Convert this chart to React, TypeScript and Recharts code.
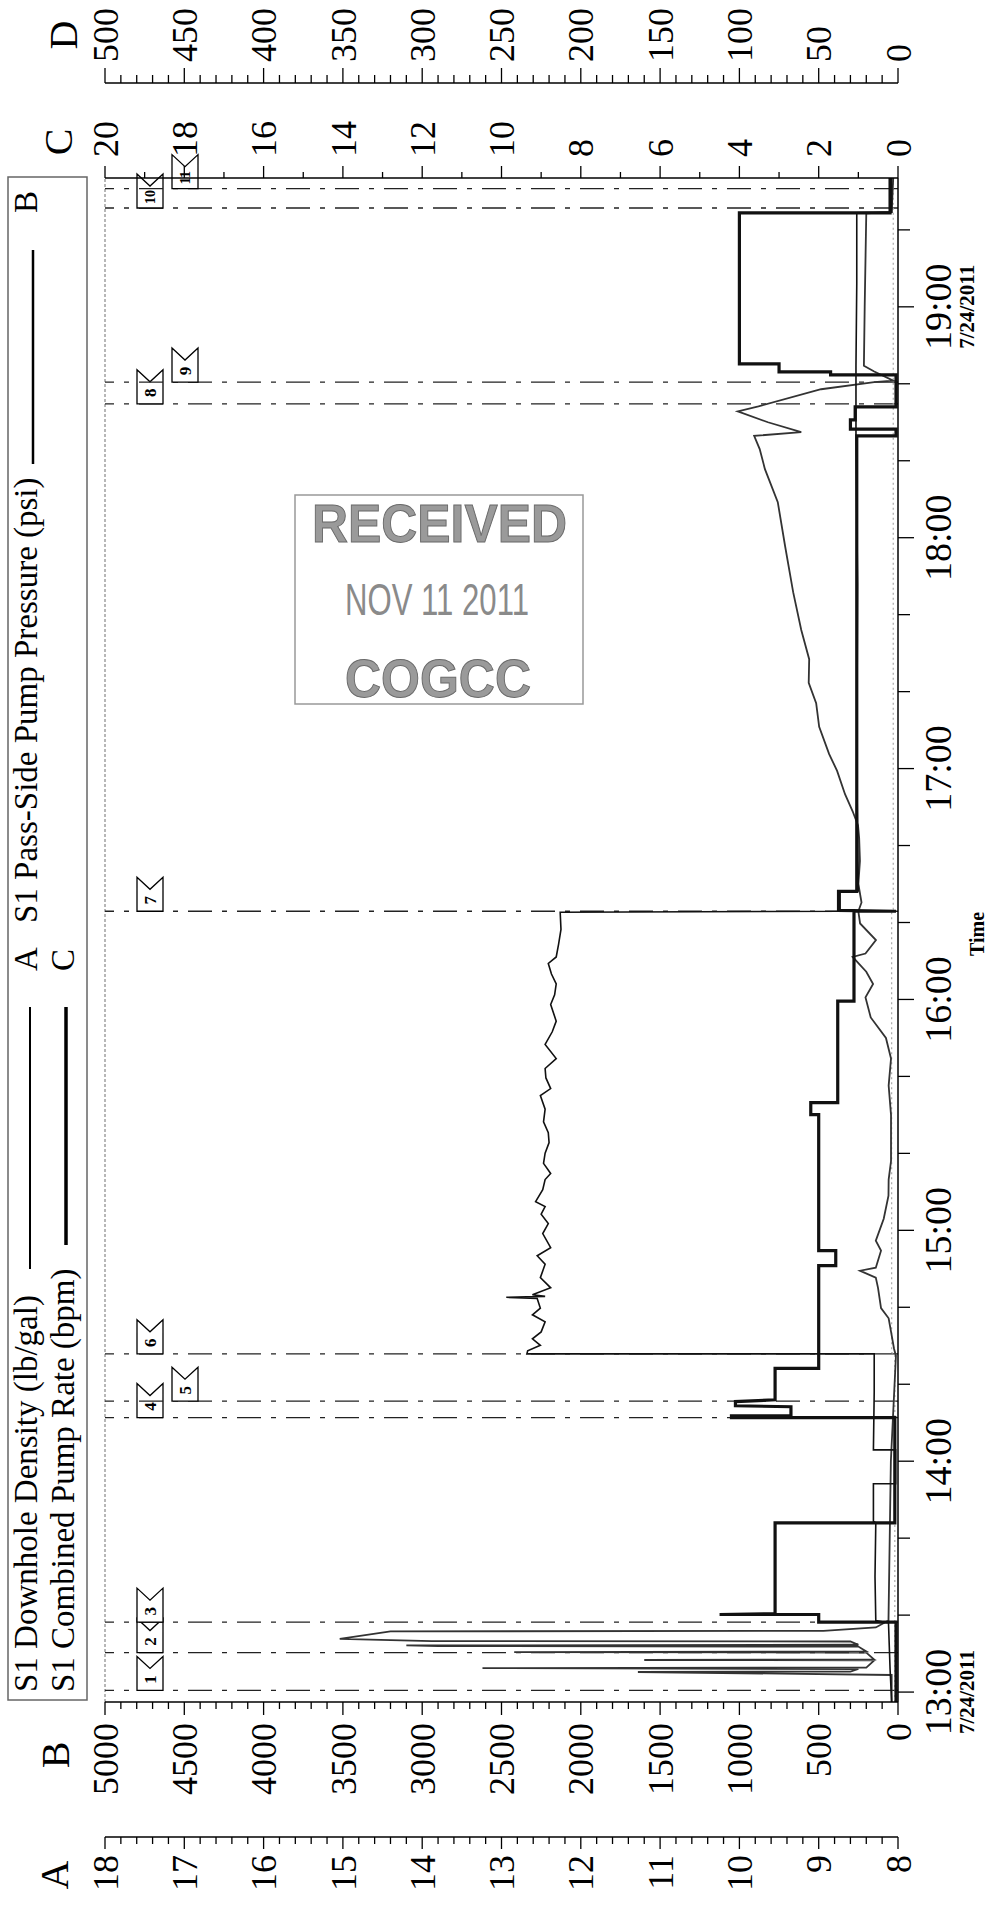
import React from "react";
import { LineChart, Line, XAxis, YAxis, ReferenceLine } from "recharts";

// Job log 7/24/2011, time in decimal hours. Chart is drawn landscape, then turned to portrait.
const SERIF = "Liberation Serif, 'Times New Roman', serif";

const hourTicks = [13, 14, 15, 16, 17, 18, 19];
const datedHours = [13, 19];
const dateLabel = "7/24/2011";
const densityTicks = [8, 9, 10, 11, 12, 13, 14, 15, 16, 17, 18];
const pressureTicks = [0, 500, 1000, 1500, 2000, 2500, 3000, 3500, 4000, 4500, 5000];
const rateTicks = [0, 2, 4, 6, 8, 10, 12, 14, 16, 18, 20];
const dTicks = [0, 50, 100, 150, 200, 250, 300, 350, 400, 450, 500];
const timeDomain = [12.957, 19.558];

const eventLabels = ["1", "2", "3", "4", "5", "6", "7", "8", "9", "10", "11"];
const eventTimes = [13.007, 13.171, 13.303, 14.189, 14.26, 14.465, 16.382, 18.58, 18.674, 19.428, 19.512];

// S1 Downhole Density (lb/gal)
const densityA: [number, number][] = [
  [12.957, 8.08], [13.1, 8.1], [13.3, 8.12], [13.31, 8.28], [13.5, 8.29], [13.733, 8.28],
  [13.74, 8.31], [13.902, 8.31], [13.902, 8.03], [14.049, 8.03], [14.049, 8.31], [14.3, 8.3],
  [14.465, 8.3], [14.465, 12.68], [14.478, 12.67], [14.502, 12.51], [14.53, 12.61], [14.56, 12.5],
  [14.604, 12.45], [14.634, 12.61], [14.663, 12.51], [14.705, 12.55], [14.71, 12.94], [14.714, 12.45],
  [14.721, 12.61], [14.751, 12.38], [14.795, 12.51], [14.853, 12.45], [14.89, 12.55], [14.925, 12.38],
  [14.986, 12.48], [15.029, 12.41], [15.07, 12.5], [15.103, 12.45], [15.124, 12.57], [15.176, 12.48],
  [15.22, 12.45], [15.246, 12.38], [15.29, 12.47], [15.334, 12.45], [15.38, 12.4], [15.423, 12.41],
  [15.47, 12.47], [15.525, 12.45], [15.584, 12.51], [15.614, 12.38], [15.66, 12.44], [15.701, 12.45],
  [15.744, 12.31], [15.805, 12.45], [15.86, 12.36], [15.906, 12.31], [15.978, 12.38], [16.02, 12.33],
  [16.067, 12.31], [16.11, 12.37], [16.156, 12.41], [16.184, 12.31], [16.24, 12.28], [16.303, 12.25],
  [16.378, 12.26], [16.382, 8.73], [16.468, 8.73], [16.47, 8.5], [17.0, 8.52], [17.8, 8.51],
  [18.44, 8.53], [18.745, 8.53], [19.1, 8.52], [19.407, 8.52], [19.41, 8.08], [19.558, 8.08],
];

// S1 Pass-Side Pump Pressure (psi)
const pressureB: [number, number][] = [
  [12.957, 40], [13.074, 40], [13.087, 1640], [13.089, 300], [13.1, 250], [13.104, 2620],
  [13.106, 200], [13.137, 150], [13.139, 1600], [13.141, 150], [13.171, 200], [13.173, 2420],
  [13.176, 200], [13.197, 250], [13.199, 2900], [13.202, 3100], [13.205, 250], [13.219, 300],
  [13.221, 2940], [13.23, 3520], [13.263, 3200], [13.265, 470], [13.28, 140], [13.31, 60],
  [14.0, 45], [14.457, 13], [14.487, 25], [14.561, 44], [14.619, 59], [14.663, 107], [14.751, 126],
  [14.795, 140], [14.825, 239], [14.838, 140], [14.912, 107], [14.955, 140], [15.05, 90],
  [15.15, 60], [15.22, 59], [15.3, 44], [15.5, 44], [15.627, 59], [15.744, 44], [15.833, 76],
  [15.922, 172], [16.009, 205], [16.067, 157], [16.12, 200], [16.184, 286], [16.199, 205],
  [16.257, 139], [16.329, 239], [16.382, 250], [16.42, 230], [16.5, 250], [16.6, 240], [16.7, 245],
  [16.754, 252], [16.815, 286], [16.889, 334], [16.99, 384], [17.063, 434], [17.181, 497],
  [17.283, 516], [17.371, 563], [17.474, 560], [17.6, 610], [17.764, 661], [17.964, 712],
  [18.154, 758], [18.297, 839], [18.384, 872], [18.441, 907], [18.457, 610], [18.5, 820],
  [18.547, 1010], [18.569, 880], [18.643, 485], [18.674, 150], [18.68, 30], [18.72, 150],
  [18.745, 215], [19.0, 210], [19.405, 200], [19.41, 40], [19.558, 30],
];

// S1 Combined Pump Rate (bpm)
const rateC: [number, number][] = [
  [12.957, 0.05], [13.303, 0.05], [13.303, 2.0], [13.336, 2.0], [13.336, 4.5], [13.34, 3.1],
  [13.733, 3.1], [13.733, 0.08], [14.189, 0.08], [14.189, 4.2], [14.196, 4.2], [14.196, 2.7],
  [14.236, 2.7], [14.24, 4.1], [14.258, 4.1], [14.266, 3.1], [14.402, 3.1], [14.402, 2.0],
  [14.847, 2.0], [14.847, 1.57], [14.912, 1.57], [14.912, 2.0], [15.501, 2.0], [15.501, 2.2],
  [15.553, 2.2], [15.553, 1.52], [15.993, 1.52], [15.993, 1.11], [16.382, 1.11], [16.382, 0.05],
  [16.386, 1.5], [16.468, 1.5], [16.468, 1.04], [18.441, 1.04], [18.441, 0.05], [18.47, 0.05],
  [18.47, 1.2], [18.51, 1.2], [18.51, 1.08], [18.567, 1.08], [18.567, 0.05], [18.705, 0.05],
  [18.705, 1.7], [18.718, 1.7], [18.718, 3.0], [18.753, 3.0], [18.753, 4.0], [19.407, 4.0],
  [19.407, 0.2], [19.558, 0.2],
];

// fourth channel on the D scale
const channelD: [number, number][] = [
  [12.957, 2], [14.465, 2], [14.47, 4], [16.382, 4], [16.39, 3], [19.558, 3],
];

const toRows = (pts: [number, number][]) => pts.map(([t, v]) => ({ t, v }));

const fill = (lo: number, hi: number, step: number) => {
  const out: number[] = [];
  for (let i = 0; lo + i * step <= hi + 1e-9; i++) out.push(+(lo + i * step).toFixed(4));
  return out;
};
const isMajor = (v: number, majors: number[]) => majors.some((m) => Math.abs(m - v) < 1e-3);

function valueTick(side: "left" | "right", majors: number[], majorLen: number, minorLen: number, gap: number) {
  return (p: any) => {
    const v = p.payload.value;
    const major = isMajor(v, majors);
    const d = side === "left" ? -1 : 1;
    return (
      <g>
        <line x1={p.x} y1={p.y} x2={p.x + d * (major ? majorLen : minorLen)} y2={p.y} stroke="#000" strokeWidth={1.3} />
        {major && (
          <text x={p.x + d * (majorLen + gap)} y={p.y} dy="0.35em" textAnchor={side === "left" ? "end" : "start"}
            fontSize={36} fontFamily={SERIF} fill="#000">
            {Math.round(v)}
          </text>
        )}
      </g>
    );
  };
}

const timeTick = (p: any) => {
  const v = p.payload.value;
  const major = isMajor(v, hourTicks);
  const h = Math.round(v);
  return (
    <g>
      <line x1={p.x} x2={p.x} y1={p.y} y2={p.y + (major ? 16 : 12)} stroke="#000" strokeWidth={1.3} />
      {major && (
        <text x={p.x} y={p.y + 53} textAnchor="middle" fontSize={38} fontFamily={SERIF} fill="#000">{`${h}:00`}</text>
      )}
      {major && datedHours.includes(h) && (
        <text x={p.x} y={p.y + 76} textAnchor="middle" fontSize={21} fontWeight="bold" fontFamily={SERIF} fill="#000">{dateLabel}</text>
      )}
    </g>
  );
};

function FlagLabel(props: any) {
  const { viewBox, n, col } = props;
  const x = viewBox.x;
  const y0 = viewBox.y + (col ? 67 : 32);
  const pts = `${x},${y0} ${x + 34},${y0} ${x + 22},${y0 + 13} ${x + 34},${y0 + 26} ${x},${y0 + 26}`;
  return (
    <g>
      <polygon points={pts} fill="#fff" stroke="#000" strokeWidth={1.3} />
      <text x={x + 11} y={y0 + 13} dy="0.35em" textAnchor="middle" fontSize={n.length > 1 ? 14 : 17}
        fontWeight="bold" fontFamily={SERIF} fill="#000">
        {n}
      </text>
    </g>
  );
}

export default function App() {
  const cols: number[] = [];
  eventTimes.forEach((t, i) => {
    cols.push(i > 0 && t - eventTimes[i - 1] < 0.12 && cols[i - 1] === 0 ? 1 : 0);
  });
  const axisLine = { stroke: "#000", strokeWidth: 1.5 };

  return (
    <div style={{ position: "absolute", left: 0, top: 0, width: 987, height: 1909, overflow: "hidden", background: "#fff" }}>
      <div style={{ position: "absolute", left: 0, top: 0, width: 1909, height: 987, transformOrigin: "0 0", transform: "translate(0px, 1909px) rotate(-90deg)" }}>
        <LineChart width={1909} height={987} margin={{ top: 105, right: 0, bottom: 0, left: 0 }}>
          <XAxis type="number" dataKey="t" domain={timeDomain} allowDataOverflow ticks={fill(13, 19.5, 1 / 3)}
            interval={0} height={89} tickSize={0} tickMargin={0} tickLine={false} axisLine={axisLine} tick={timeTick} />
          <YAxis yAxisId="yd" orientation="left" width={72} domain={[8, 18]} allowDataOverflow
            ticks={fill(8, 18, 0.2)} interval={0} tickSize={0} tickMargin={0} tickLine={false} axisLine={axisLine}
            tick={valueTick("left", densityTicks, 12, 7, 6)} />
          <YAxis yAxisId="yb" orientation="left" width={135} domain={[0, 5000]} allowDataOverflow
            ticks={fill(0, 5000, 100)} interval={0} tickSize={0} tickMargin={0} tickLine={false} axisLine={axisLine}
            tick={valueTick("left", pressureTicks, 13, 7, 8)} />
          <YAxis yAxisId="C" orientation="right" width={95} domain={[0, 20]} allowDataOverflow
            ticks={fill(0, 20, 1)} interval={0} tickSize={0} tickMargin={0} tickLine={false} axisLine={axisLine}
            tick={valueTick("right", rateTicks, 12, 6, 9)} />
          <YAxis yAxisId="D" orientation="right" width={83} domain={[0, 500]} allowDataOverflow
            ticks={fill(0, 500, 10)} interval={0} tickSize={0} tickMargin={0} tickLine={false} axisLine={axisLine}
            tick={valueTick("right", dTicks, 15, 8, 6)} />

          <ReferenceLine yAxisId="yd" y={18} stroke="#888" strokeWidth={1.2} strokeDasharray="3 2" />

          {eventTimes.map((t, i) => (
            <ReferenceLine key={eventLabels[i]} yAxisId="yd" x={t} stroke="#222" strokeWidth={1.3}
              strokeDasharray="24 10 5 10" label={<FlagLabel n={eventLabels[i]} col={cols[i]} />} />
          ))}

          <Line yAxisId="D" data={toRows(channelD)} dataKey="v" type="linear" stroke="#aaa" strokeWidth={1.2}
            strokeDasharray="2 3" dot={false} activeDot={false} isAnimationActive={false} />
          <Line yAxisId="yb" data={toRows(pressureB)} dataKey="v" type="linear" stroke="#333" strokeWidth={1.8}
            dot={false} activeDot={false} isAnimationActive={false} />
          <Line yAxisId="C" data={toRows(rateC)} dataKey="v" type="linear" stroke="#111" strokeWidth={3.2}
            dot={false} activeDot={false} isAnimationActive={false} />
          <Line yAxisId="yd" data={toRows(densityA)} dataKey="v" type="linear" stroke="#111" strokeWidth={1.6}
            dot={false} activeDot={false} isAnimationActive={false} />
        </LineChart>

        <svg width={1909} height={987} style={{ position: "absolute", left: 0, top: 0, pointerEvents: "none" }} fontFamily={SERIF}>
          <rect x={209} y={8} width={1523} height={79} fill="none" stroke="#666" strokeWidth={1.5} />
          <text x={217} y={37} fontSize={33}>S1 Downhole Density (lb/gal)</text>
          <line x1={640} x2={902} y1={30} y2={30} stroke="#000" strokeWidth={2} />
          <text x={950} y={37} fontSize={33} textAnchor="middle">A</text>
          <text x={986} y={37} fontSize={33}>S1 Pass-Side Pump Pressure (psi)</text>
          <line x1={1445} x2={1659} y1={33} y2={33} stroke="#000" strokeWidth={2.5} />
          <text x={1707} y={37} fontSize={33} textAnchor="middle">B</text>
          <text x={217} y={74} fontSize={33}>S1 Combined Pump Rate (bpm)</text>
          <line x1={664} x2={902} y1={66} y2={66} stroke="#000" strokeWidth={3.5} />
          <text x={949} y={74} fontSize={33} textAnchor="middle">C</text>

          <text x={34} y={54} dy="0.35em" fontSize={40} textAnchor="middle">A</text>
          <text x={154} y={55} dy="0.35em" fontSize={40} textAnchor="middle">B</text>
          <text x={1767} y={58} dy="0.35em" fontSize={40} textAnchor="middle">C</text>
          <text x={1874} y={63} dy="0.35em" fontSize={40} textAnchor="middle">D</text>

          <text x={975} y={984} fontSize={20} fontWeight="bold" textAnchor="middle">Time</text>
        </svg>
      </div>

      <svg width={987} height={1909} style={{ position: "absolute", left: 0, top: 0, pointerEvents: "none" }}
        fontFamily="Liberation Sans, Arial, sans-serif">
        <rect x={295} y={495} width={288} height={209} fill="none" stroke="#999" strokeWidth={1.5} />
        <text x={312} y={542} fontSize={54} fontWeight="bold" textLength={255} lengthAdjust="spacingAndGlyphs"
          fill="#9a9a9a" stroke="#6a6a6a" strokeWidth={1}>RECEIVED</text>
        <text x={345} y={615} fontSize={44} textLength={184} lengthAdjust="spacingAndGlyphs" fill="#8a8a8a">NOV 11 2011</text>
        <text x={345} y={697} fontSize={54} fontWeight="bold" textLength={186} lengthAdjust="spacingAndGlyphs"
          fill="#9a9a9a" stroke="#6a6a6a" strokeWidth={1}>COGCC</text>
      </svg>
    </div>
  );
}
